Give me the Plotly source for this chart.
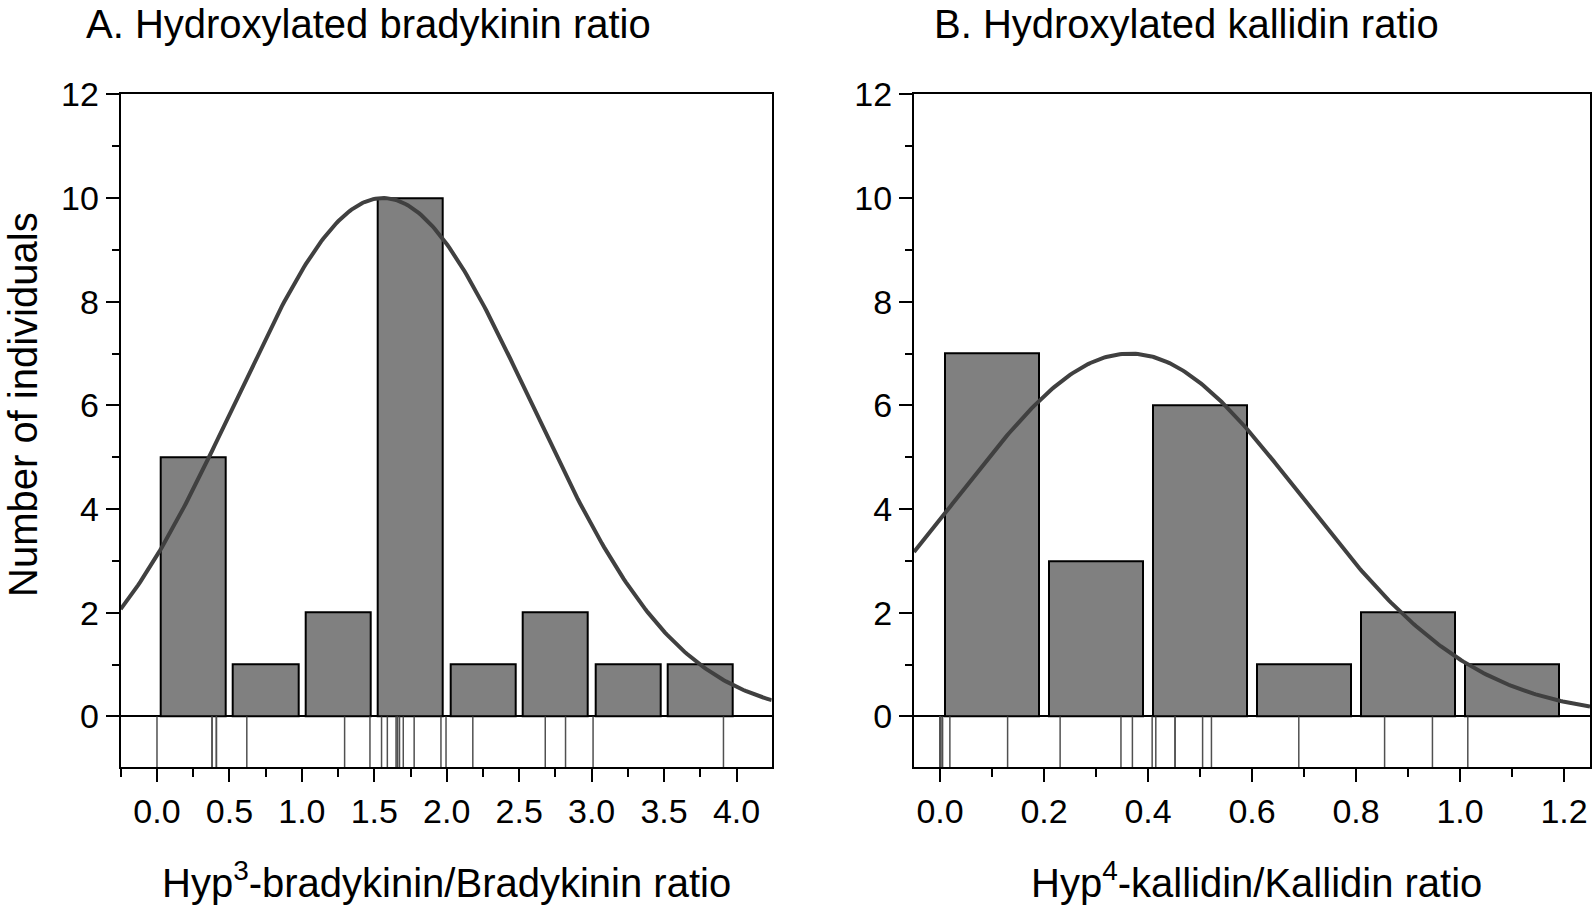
import plotly.graph_objects as go
import math

# ---------------- data ----------------
# Panel A: Hyp3-bradykinin / bradykinin ratio
a_bin_centers = [0.25, 0.75, 1.25, 1.75, 2.25, 2.75, 3.25, 3.75]
a_counts = [5, 1, 2, 10, 1, 2, 1, 1]
a_bar_width = 0.45
a_rug = [0.0, 0.38, 0.38, 0.41, 0.41, 0.62, 1.295, 1.47, 1.55, 1.59, 1.65, 1.66,
         1.66, 1.674, 1.70, 1.775, 1.96, 1.995, 2.18, 2.68, 2.82, 3.01, 3.91]
a_fit_mean, a_fit_sd, a_fit_peak = 1.56, 1.02, 10.0

# Panel B: Hyp4-kallidin / kallidin ratio
b_bin_centers = [0.1, 0.3, 0.5, 0.7, 0.9, 1.1]
b_counts = [7, 3, 6, 1, 2, 1]
b_bar_width = 0.18
b_rug = [0.0, 0.0, 0.0, 0.002, 0.005, 0.019, 0.13, 0.231, 0.348, 0.37, 0.408,
         0.415, 0.452, 0.452, 0.505, 0.522, 0.69, 0.855, 0.947, 1.015]
b_fit_mean, b_fit_sd, b_fit_peak = 0.365, 0.33, 7.0

a_xrange = [-0.2505, 4.243]
b_xrange = [-0.05, 1.25]
yrange = [-0.98, 12]
y_ticks = [0, 2, 4, 6, 8, 10, 12]
y_minor = [1, 3, 5, 7, 9, 11]
a_xticks = [0.0, 0.5, 1.0, 1.5, 2.0, 2.5, 3.0, 3.5, 4.0]
a_xminor = [-0.25, 0.25, 0.75, 1.25, 1.75, 2.25, 2.75, 3.25, 3.75]
b_xticks = [0.0, 0.2, 0.4, 0.6, 0.8, 1.0, 1.2]
b_xminor = [0.1, 0.3, 0.5, 0.7, 0.9, 1.1]

# ---------------- figure ----------------
W, H = 1594, 912
FONT = "Arial, 'Liberation Sans', sans-serif"

def gauss_curve(rng, mu, sd, peak, n=300):
    xs = [rng[0] + (rng[1] - rng[0]) * i / (n - 1) for i in range(n)]
    ys = [peak * math.exp(-((x - mu) ** 2) / (2 * sd ** 2)) for x in xs]
    return xs, ys

def rug(vals, bottom):
    xs, ys = [], []
    for v in vals:
        xs += [v, v, None]
        ys += [0, bottom, None]
    return xs, ys

fig = go.Figure()

for (centers, counts, width, rugvals, mu, sd, pk, rng, xa, ya) in [
    (a_bin_centers, a_counts, a_bar_width, a_rug, a_fit_mean, a_fit_sd, a_fit_peak, a_xrange, "x", "y"),
    (b_bin_centers, b_counts, b_bar_width, b_rug, b_fit_mean, b_fit_sd, b_fit_peak, b_xrange, "x2", "y2"),
]:
    fig.add_trace(go.Bar(x=centers, y=counts, width=width, xaxis=xa, yaxis=ya,
                         marker=dict(color="#808080", line=dict(color="black", width=2)),
                         showlegend=False))
    cx, cy = gauss_curve(rng, mu, sd, pk)
    fig.add_trace(go.Scatter(x=cx, y=cy, mode="lines", xaxis=xa, yaxis=ya,
                             line=dict(color="#404040", width=4), showlegend=False))
    rx, ry = rug(rugvals, yrange[0])
    fig.add_trace(go.Scatter(x=rx, y=ry, mode="lines", xaxis=xa, yaxis=ya,
                             line=dict(color="#505050", width=1.5), showlegend=False))

ydom = [1 - 767.3 / H, 1 - 94.3 / H]
axis_common = dict(showline=True, mirror=True, linecolor="black", linewidth=2,
                   ticks="outside", ticklen=13, tickwidth=2, tickcolor="black",
                   showgrid=False, zeroline=False, automargin=False,
                   tickfont=dict(family=FONT, size=34, color="black"))
yzero = dict(zeroline=True, zerolinecolor="black", zerolinewidth=2)
minor_x = dict(ticklen=8, tickwidth=2, tickcolor="black", ticks="outside")
minor_y = dict(ticklen=7, tickwidth=2, tickcolor="black", ticks="outside")

fig.update_layout(
    width=W, height=H,
    margin=dict(l=0, r=0, t=0, b=0, pad=0),
    paper_bgcolor="white", plot_bgcolor="white",
    bargap=0,
    xaxis=dict(domain=[120.7 / W, 771.7 / W], range=a_xrange, tickvals=a_xticks,
               tickformat=".1f", minor=dict(tickvals=a_xminor, **minor_x),
               anchor="y", **axis_common),
    yaxis=dict(domain=ydom, range=yrange, tickvals=y_ticks,
               minor=dict(tickvals=y_minor, **minor_y),
               anchor="x", **{**axis_common, **yzero}),
    xaxis2=dict(domain=[914 / W, 1590 / W], range=b_xrange, tickvals=b_xticks,
                tickformat=".1f", minor=dict(tickvals=b_xminor, **minor_x),
                anchor="y2", **axis_common),
    yaxis2=dict(domain=ydom, range=yrange, tickvals=y_ticks,
                minor=dict(tickvals=y_minor, **minor_y),
                anchor="x2", **{**axis_common, **yzero}),
)

title_font = dict(family=FONT, size=40, color="black")
annotations = [
    dict(text="A. Hydroxylated bradykinin ratio", x=84 / W, y=1 - 24.5 / H,
         xanchor="left", yanchor="middle"),
    dict(text="B. Hydroxylated kallidin ratio", x=932 / W, y=1 - 24.5 / H,
         xanchor="left", yanchor="middle"),
    dict(text="Number of individuals", x=23 / W, y=1 - 405 / H, textangle=-90,
         xanchor="center", yanchor="middle"),
    dict(text="Hyp<sup>3</sup>-bradykinin/Bradykinin ratio", x=446.8 / W, y=1 - 880 / H,
         xanchor="center", yanchor="middle"),
    dict(text="Hyp<sup>4</sup>-kallidin/Kallidin ratio", x=1256.5 / W, y=1 - 880 / H,
         xanchor="center", yanchor="middle"),
]
for a in annotations:
    fig.add_annotation(xref="paper", yref="paper", showarrow=False, font=title_font, **a)

fig.write_html("out.html", config={"displayModeBar": False},
               post_script="document.body.style.margin='0px';")
